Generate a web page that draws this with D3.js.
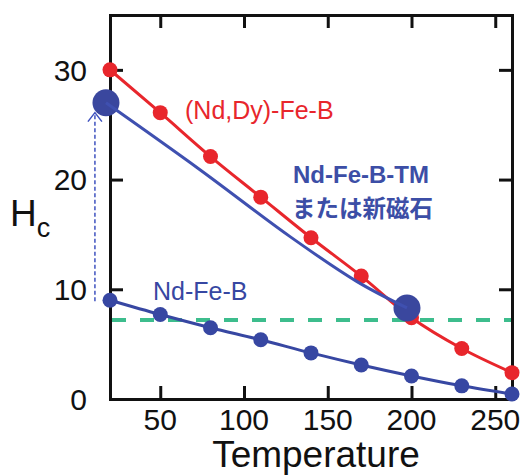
<!DOCTYPE html>
<html>
<head>
<meta charset="utf-8">
<script src="https://cdn.jsdelivr.net/npm/d3@7"></script>
<style>
  html, body { margin: 0; padding: 0; background: #fff; }
  svg { display: block; }
</style>
</head>
<body>
<svg id="chart" width="522" height="475"></svg>
<script>
// ---- data ----
const temps = [20, 50, 80, 110, 140, 170, 200, 230, 260];
const ndDyFeB = [30, 26.1, 22.1, 18.4, 14.7, 11.2, 7.4, 4.6, 2.4];
const ndFeB = [9.0, 7.7, 6.5, 5.4, 4.2, 3.1, 2.1, 1.2, 0.45];
const tmTemps = [17.6, 73.7, 127.5, 167.5, 197.3];
const tmValues = [27.0, 20.9, 14.8, 10.7, 8.3];
const bigTemps = [17.6, 197.3];
const bigValues = [27.0, 8.3];
const thresholdValue = 7.2;
const arrowTemp = 11;
const arrowFrom = 8.9, arrowTo = 26.1;
const xTicks = [50, 100, 150, 200, 250];
const yTicks = [0, 10, 20, 30];

const RED = "#e8262c", BLUE = "#3747a2", GREEN = "#3dbd8d";

const svg = d3.select("#chart");
const x = d3.scaleLinear().domain([20, 260]).range([110, 512]);
const y = d3.scaleLinear().domain([0, 35]).range([399, 15]);

const font = "'Liberation Sans', Arial, Helvetica, sans-serif";

// threshold dashed line
svg.append("line")
  .attr("x1", x(20)).attr("x2", x(260))
  .attr("y1", y(thresholdValue)).attr("y2", y(thresholdValue))
  .attr("stroke", GREEN).attr("stroke-width", 4)
  .attr("stroke-dasharray", "14,14").attr("stroke-dashoffset", -2);

// frame axes
const axLeft = d3.axisLeft(y).tickValues([10, 20, 30]).tickSize(-13).tickFormat("");
const axRight = d3.axisRight(y).tickValues([10, 20, 30]).tickSize(-13).tickFormat("");
const axTop = d3.axisTop(x).tickValues(xTicks).tickSize(-13).tickFormat("");
const axBottom = d3.axisBottom(x).tickValues(xTicks).tickSize(-13).tickFormat("");
function styleAxis(g) {
  g.selectAll("path").attr("stroke", "#111").attr("stroke-width", 3);
  g.selectAll("line").attr("stroke", "#111").attr("stroke-width", 3);
}
svg.append("g").attr("transform", `translate(${x(20)},0)`).call(axLeft).call(styleAxis);
svg.append("g").attr("transform", `translate(${x(260)},0)`).call(axRight).call(styleAxis);
svg.append("g").attr("transform", `translate(0,${y(35)})`).call(axTop).call(styleAxis);
svg.append("g").attr("transform", `translate(0,${y(0)})`).call(axBottom).call(styleAxis);
svg.selectAll(".domain").attr("stroke-linecap", "square");

// tick labels
svg.append("g").selectAll("text").data(yTicks).join("text")
  .attr("x", 87).attr("y", d => y(d)).attr("dy", "0.36em")
  .attr("text-anchor", "end")
  .attr("font-family", font).attr("font-size", 30).attr("fill", "#111")
  .text(d => d);
svg.append("g").selectAll("text").data(xTicks).join("text")
  .attr("x", d => x(d)).attr("y", 430)
  .attr("text-anchor", "middle")
  .attr("font-family", font).attr("font-size", 30).attr("fill", "#111")
  .text(d => d);

// axis titles
svg.append("text").attr("x", 316).attr("y", 467).attr("text-anchor", "middle")
  .attr("font-family", font).attr("font-size", 37).attr("fill", "#111")
  .text("Temperature");
const hc = svg.append("text").attr("x", 10).attr("y", 226)
  .attr("font-family", font).attr("font-size", 37).attr("fill", "#111");
hc.append("tspan").text("H");
hc.append("tspan").attr("font-size", 27).attr("dy", 11).text("c");

// series lines
const line = d3.line().x(d => x(d[0])).y(d => y(d[1])).curve(d3.curveMonotoneX);
svg.append("path").datum(temps.map((t, i) => [t, ndDyFeB[i]]))
  .attr("d", line).attr("fill", "none").attr("stroke", RED).attr("stroke-width", 3);
svg.append("g").selectAll("circle").data(temps).join("circle")
  .attr("cx", d => x(d)).attr("cy", (d, i) => y(ndDyFeB[i])).attr("r", 7.5).attr("fill", RED);

svg.append("path").datum(temps.map((t, i) => [t, ndFeB[i]]))
  .attr("d", line).attr("fill", "none").attr("stroke", BLUE).attr("stroke-width", 3);
svg.append("g").selectAll("circle").data(temps).join("circle")
  .attr("cx", d => x(d)).attr("cy", (d, i) => y(ndFeB[i])).attr("r", 7.5).attr("fill", BLUE);

// TM big circles and line
svg.append("g").selectAll("circle").data(bigTemps).join("circle")
  .attr("cx", d => x(d)).attr("cy", (d, i) => y(bigValues[i])).attr("r", 13.5).attr("fill", "#3a479e");
svg.append("path").datum(tmTemps.map((t, i) => [t, tmValues[i]]))
  .attr("d", d3.line().x(d => x(d[0])).y(d => y(d[1])).curve(d3.curveCatmullRom))
  .attr("fill", "none").attr("stroke", "#3f50b0").attr("stroke-width", 3);

// dashed arrow
const ax = x(arrowTemp);
svg.append("line").attr("x1", ax).attr("x2", ax)
  .attr("y1", y(arrowFrom)).attr("y2", y(arrowTo))
  .attr("stroke", "#3f52bf").attr("stroke-width", 1.5).attr("stroke-dasharray", "4,2.5");
svg.append("path")
  .attr("d", `M${ax - 7},${y(arrowTo) + 9} L${ax},${y(arrowTo)} L${ax + 7},${y(arrowTo) + 9}`)
  .attr("fill", "none").attr("stroke", "#3f52bf").attr("stroke-width", 1.5);

// labels
svg.append("text").attr("x", 185).attr("y", 119)
  .attr("font-family", font).attr("font-size", 25).attr("fill", RED)
  .text("(Nd,Dy)-Fe-B");
svg.append("text").attr("x", 153).attr("y", 300)
  .attr("font-family", font).attr("font-size", 25).attr("fill", BLUE)
  .text("Nd-Fe-B");
svg.append("text").attr("x", 293).attr("y", 183)
  .attr("font-family", font).attr("font-size", 24).attr("font-weight", "bold").attr("fill", "#3c4ea6")
  .text("Nd-Fe-B-TM");
svg.append("text").attr("x", 292).attr("y", 217)
  .attr("font-family", "'Noto Sans CJK JP', sans-serif").attr("font-size", 23.5).attr("font-weight", "bold").attr("fill", "#3c4ea6")
  .text("または新磁石");
</script>
</body>
</html>
